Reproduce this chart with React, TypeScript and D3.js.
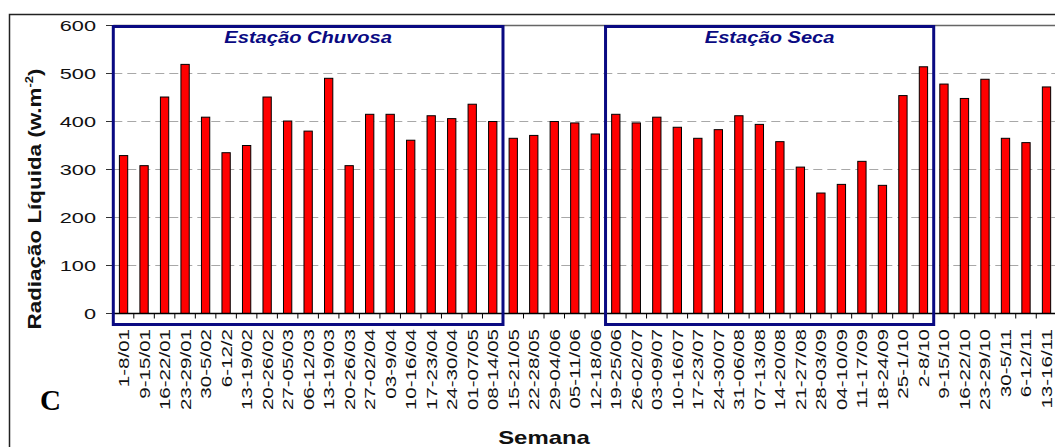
import React from "react";
import * as d3 from "d3";

const weeks = [
  "1-8/01", "9-15/01", "16-22/01", "23-29/01", "30-5/02", "6-12/2", "13-19/02", "20-26/02",
  "27-05/03", "06-12/03", "13-19/03", "20-26/03", "27-02/04", "03-9/04", "10-16/04", "17-23/04",
  "24-30/04", "01-07/05", "08-14/05", "15-21/05", "22-28/05", "29-04/06", "05-11/06", "12-18/06",
  "19-25/06", "26-02/07", "03-09/07", "10-16/07", "17-23/07", "24-30/07", "31-06/08", "07-13/08",
  "14-20/08", "21-27/08", "28-03/09", "04-10/09", "11-17/09", "18-24/09", "25-1/10", "2-8/10",
  "9-15/10", "16-22/10", "23-29/10", "30-5/11", "6-12/11", "13-16/11",
];

const radiation = [
  329, 308, 451, 519, 409, 335, 350, 451,
  401, 380, 490, 308, 415, 415, 361, 412,
  406, 436, 400, 365, 371, 400, 397, 374,
  415, 397, 409, 388, 365, 383, 412, 394,
  358, 305, 251, 269, 317, 267, 454, 514,
  478, 448, 488, 365, 356, 472,
];

const yTicks = [0, 100, 200, 300, 400, 500, 600];

const seasonLabels = ["Estação Chuvosa", "Estação Seca"];
const seasonStart = ["1-8/01", "19-25/06"];
const seasonEnd = ["08-14/05", "2-8/10"];

const SANS = "'Liberation Sans', Arial, sans-serif";

export default function App() {
  const W = 1055;
  const H = 447;
  const x0 = 113.3;
  const step = 20.51;
  const x = d3
    .scaleBand<string>()
    .domain(weeks)
    .range([x0, x0 + weeks.length * step])
    .paddingInner(0.595)
    .paddingOuter(0.2975);
  const y = d3.scaleLinear().domain([0, 600]).range([313.5, 25.5]);

  const bw = x.bandwidth();
  const st = x.step();
  const left = x0;
  const right = x0 + weeks.length * step;
  const bandStart = (w: string) => (x(w) as number) + bw / 2 - st / 2;
  const center = (w: string) => (x(w) as number) + bw / 2;

  return (
    <div style={{ position: "absolute", left: 0, top: 0 }}>
      <svg width={W} height={H} style={{ display: "block", background: "#fff" }}>
        {/* outer frame */}
        <rect x={9.5} y={14.5} width={1100} height={500} fill="none" stroke="#222" strokeWidth={1.5} />

        {/* gridlines */}
        {yTicks.filter((t) => t > 0 && t < 600).map((t) => (
          <line key={"g" + t} x1={left} x2={right} y1={y(t)} y2={y(t)} stroke="#a8a8a8" strokeWidth={1.2} strokeDasharray="9,5" />
        ))}
        <line x1={left} x2={right} y1={y(600)} y2={y(600)} stroke="#666" strokeWidth={1.3} />

        {/* y ticks & labels */}
        {yTicks.map((t) => (
          <g key={"yt" + t}>
            <line x1={106} x2={left} y1={y(t)} y2={y(t)} stroke="#333" strokeWidth={1} />
            <text
              transform={`translate(96,${y(t) + 5.5}) scale(1.45,1)`}
              textAnchor="end"
              fontFamily={SANS}
              fontSize={15}
              fill="#111"
            >
              {t}
            </text>
          </g>
        ))}

        {/* bars */}
        {weeks.map((w, i) => (
          <rect
            key={"b" + w}
            x={x(w)}
            y={y(radiation[i])}
            width={bw}
            height={y(0) - y(radiation[i])}
            fill="#ff0000"
            stroke="#000"
            strokeWidth={1}
          />
        ))}

        {/* axes */}
        <line x1={left} x2={right} y1={y(0)} y2={y(0)} stroke="#000" strokeWidth={1.3} />
        <line x1={left} x2={left} y1={y(600)} y2={y(0)} stroke="#000" strokeWidth={1.3} />
        {weeks.map((w) => (
          <line key={"xt" + w} x1={bandStart(w)} x2={bandStart(w)} y1={y(0)} y2={y(0) + 5} stroke="#000" strokeWidth={1} />
        ))}

        {/* x labels */}
        {weeks.map((w) => (
          <text
            key={"xl" + w}
            transform={`translate(${center(w) + 5.5},329) rotate(-90) scale(1.37,1)`}
            textAnchor="end"
            fontFamily={SANS}
            fontSize={15}
            fill="#111"
          >
            {w}
          </text>
        ))}

        {/* season boxes */}
        {seasonLabels.map((lab, i) => {
          const x1 = bandStart(seasonStart[i]);
          const x2 = bandStart(seasonEnd[i]) + st;
          return (
            <g key={"s" + i}>
              <rect x={x1} y={y(600) + 1} width={x2 - x1} height={324.5 - y(600) - 1} fill="none" stroke="#0a0a82" strokeWidth={3} />
              <text
                transform={`translate(${(x1 + x2) / 2},43) scale(1.22,1)`}
                textAnchor="middle"
                fontFamily={SANS}
                fontSize={16.5}
                fontWeight="bold"
                fontStyle="italic"
                fill="#0a0a82"
              >
                {lab}
              </text>
            </g>
          );
        })}

        {/* y title */}
        <text
          transform="translate(41,199) rotate(-90) scale(1.18,1)"
          textAnchor="middle"
          fontFamily={SANS}
          fontSize={19}
          fontWeight="bold"
          fill="#111"
        >
          Radiação Líquida (w.m
          <tspan fontSize={11} dy={-8}>-2</tspan>
          <tspan dy={8}>)</tspan>
        </text>

        {/* x title */}
        <text
          transform="translate(544,444) scale(1.33,1)"
          textAnchor="middle"
          fontFamily={SANS}
          fontSize={18}
          fontWeight="bold"
          fill="#111"
        >
          Semana
        </text>

        <text x={40} y={410} fontFamily="'Liberation Serif', 'Times New Roman', serif" fontSize={29} fontWeight="bold" fill="#000">
          C
        </text>
      </svg>
    </div>
  );
}
